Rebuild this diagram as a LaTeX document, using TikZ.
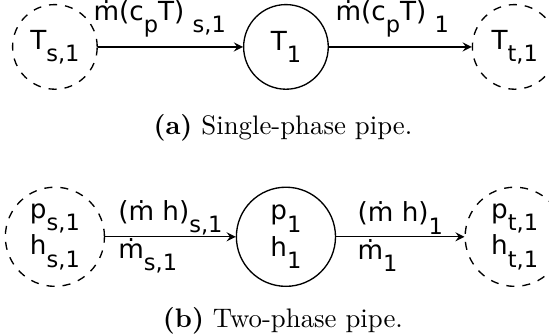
\documentclass[tikz,border=0pt]{standalone}
\usepackage{fontspec}
\newfontfamily\dejavu{DejaVu Sans}
\newcommand{\sbs}[1]{\raisebox{-4.6pt}{\fontsize{8.4}{10}\selectfont #1}}

\begin{document}
\begin{tikzpicture}[
    line width=0.5pt,
    state/.style={circle, draw, inner sep=0pt, align=center,
        font=\dejavu\fontsize{9.8}{13.5}\selectfont},
    bound/.style={state, dashed},
    flow/.style={->, >=stealth},
    lbl/.style={font=\dejavu\fontsize{9.8}{14}\selectfont}
]

    \useasboundingbox (0,0) rectangle (7.2,4.405);

    % Single-phase pipe
    \node[bound, minimum size=1.11cm] (src1) at (0.72,3.79) {T\sbs{s,1}};
    \node[state, minimum size=1.11cm] (pipe1) at (3.75,3.79) {T\sbs{1}};
    \node[bound, minimum size=1.11cm] (tgt1) at (6.75,3.79) {T\sbs{t,1}};

    \draw[flow] (src1) -- (pipe1)
        node[lbl, midway, above, xshift=-4pt] {ṁ(c\sbs{p}T) \sbs{s,1}};
    \draw[flow] (pipe1) -- (tgt1)
        node[lbl, midway, above, xshift=-3pt] {ṁ(c\sbs{p}T) \sbs{1}};

    \node (capa) at (3.71,2.73) {\textbf{(a)} Single-phase pipe.};

    % Two-phase pipe
    \node[bound, minimum size=1.3cm] (src2) at (0.72,1.3) {p\sbs{s,1}\\h\sbs{s,1}};
    \node[state, minimum size=1.3cm] (pipe2) at (3.75,1.3) {p\sbs{1}\\h\sbs{1}};
    \node[bound, minimum size=1.3cm] (tgt2) at (6.75,1.3) {p\sbs{t,1}\\h\sbs{t,1}};

    \draw[flow] (src2) -- (pipe2)
        node[lbl, midway, align=left] {(ṁ h)\sbs{s,1}\\ṁ\sbs{s,1}};
    \draw[flow] (pipe2) -- (tgt2)
        node[lbl, midway, align=left] {(ṁ h)\sbs{1}\\ṁ\sbs{1}};

    \node (capb) at (3.71,0.2) {\textbf{(b)} Two-phase pipe.};

\end{tikzpicture}
\end{document}
